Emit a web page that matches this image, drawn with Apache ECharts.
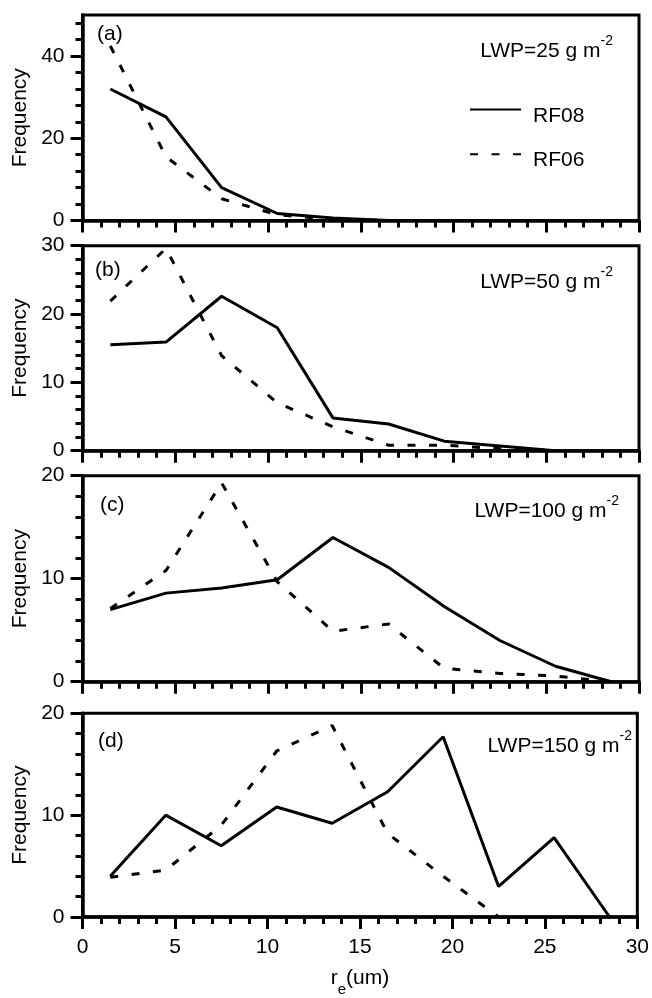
<!DOCTYPE html>
<html><head><meta charset="utf-8">
<script src="https://cdn.jsdelivr.net/npm/echarts@6/dist/echarts.min.js"></script>
<style>html,body{margin:0;padding:0;background:#fff}#c{width:652px;height:998px}</style>
</head><body><div id="c"></div>
<script>
// bin centres of effective radius (um)
const xValues = [1.5, 4.5, 7.5, 10.5, 13.5, 16.5, 19.5, 22.5, 25.5, 28.5];
// (a) LWP=25
const rf08_a = [32.0, 25.2, 8.0, 1.7, 0.6, 0];
const rf06_a = [42.5, 15.5, 5.3, 1.4, 0.3, 0];
// (b) LWP=50
const rf08_b = [15.5, 15.9, 22.6, 18.0, 4.8, 3.9, 1.4, 0.7, 0];
const rf06_b = [21.9, 29.6, 13.9, 7.0, 3.5, 0.8, 0.8, 0.3, 0];
// (c) LWP=100
const rf08_c = [7.0, 8.6, 9.1, 9.9, 14.0, 11.1, 7.3, 4.0, 1.5, 0];
const rf06_c = [7.1, 10.8, 19.3, 9.7, 4.9, 5.6, 1.3, 0.8, 0.55, 0];
// (d) LWP=150
const rf08_d = [4.0, 10.0, 7.0, 10.8, 9.2, 12.3, 17.7, 3.0, 7.8, 0];
const rf06_d = [3.9, 4.6, 9.0, 16.3, 18.8, 8.2, 4.0, 0];

const panelLetters = ['(a)', '(b)', '(c)', '(d)'];
const lwpValues = ['25', '50', '100', '150'];
const yMax = [50, 30, 20, 20];
const yInterval = [20, 10, 10, 10];
const yTickValues = [[0, 20, 40], [0, 10, 20, 30], [0, 10, 20], [0, 10, 20]];
const yMinorValues = [[4, 8, 12, 16, 24, 28, 32, 36, 44, 48],
  [2, 4, 6, 8, 12, 14, 16, 18, 22, 24, 26, 28],
  [2, 4, 6, 8, 12, 14, 16, 18], [2, 4, 6, 8, 12, 14, 16, 18]];
const seriesNames = ['RF08', 'RF06'];

const FONT = 'Liberation Sans, Arial, sans-serif';
const grids = [
  {top: 15, height: 205.5},
  {top: 245.7, height: 205},
  {top: 475.7, height: 206},
  {top: 713.3, height: 206}
];

const pairs = (vals) => vals.map((v, i) => [xValues[i], v]);
const allData = [[rf08_a, rf06_a], [rf08_b, rf06_b], [rf08_c, rf06_c], [rf08_d, rf06_d]];

const black = '#000';
const yAxes = [];
grids.forEach((g, i) => {
  // major ticks + labels
  yAxes.push({
    type: 'value', gridIndex: i, min: 0, max: yMax[i], interval: yInterval[i],
    axisLine: {show: true, onZero: false, lineStyle: {color: black, width: 3.5}},
    axisTick: {show: true, length: 12, customValues: yTickValues[i], lineStyle: {color: black, width: 3}},
    splitLine: {show: false},
    axisLabel: {color: black, fontSize: 21, fontFamily: FONT, margin: 18, customValues: yTickValues[i]},
    name: 'Frequency', nameLocation: 'middle', nameGap: 42,
    nameTextStyle: {color: black, fontSize: 21, fontFamily: FONT}
  });
});
grids.forEach((g, i) => {
  // minor ticks
  yAxes.push({
    type: 'value', gridIndex: i, min: 0, max: yMax[i], position: 'left',
    axisLine: {show: false},
    axisTick: {show: true, length: 7, customValues: yMinorValues[i], lineStyle: {color: black, width: 3}},
    splitLine: {show: false},
    axisLabel: {show: false}
  });
});

const option = {
  animation: false,
  backgroundColor: '#fff',
  grid: grids.map(g => ({left: 82.5, width: 556.5, top: g.top, height: g.height,
    show: true, borderColor: black, borderWidth: 3, backgroundColor: 'transparent'})),
  xAxis: grids.map((g, i) => ({
    type: 'value', gridIndex: i, min: 0, max: 30, interval: 5,
    axisLine: {show: true, onZero: false, lineStyle: {color: black, width: 3.5}},
    axisTick: {show: true, length: 12, lineStyle: {color: black, width: 3}},
    minorTick: {show: true, splitNumber: 5, length: 7, lineStyle: {color: black, width: 3}},
    splitLine: {show: false}, minorSplitLine: {show: false},
    axisLabel: {show: i === 3, color: black, fontSize: 21, fontFamily: FONT, margin: 20},
    name: i === 3 ? '{r|r}{e|e}{r|(um)}' : '',
    nameLocation: 'middle', nameGap: 51,
    nameTextStyle: {color: black, fontFamily: FONT, rich: {
      r: {fontSize: 21, fontFamily: FONT, color: black, lineHeight: 21, verticalAlign: 'top'},
      e: {fontSize: 15, fontFamily: FONT, color: black, lineHeight: 15, verticalAlign: 'top', padding: [14, 0, 0, 0]}
    }}
  })),
  yAxis: yAxes,
  legend: {
    data: seriesNames, orient: 'vertical', left: 464, top: 95, itemGap: 18,
    itemWidth: 51, itemHeight: 24,
    itemStyle: {color: 'rgba(0,0,0,0)', borderWidth: 0, opacity: 0},
    formatter: '{t|{name}}',
    textStyle: {color: black, fontSize: 21, fontFamily: FONT,
      rich: {t: {fontSize: 21, fontFamily: FONT, color: black, padding: [13, 0, 0, 7]}}}
  },
  series: [],
  graphic: []
};

allData.forEach((pair, i) => {
  pair.forEach((vals, k) => {
    option.series.push({
      name: seriesNames[k], type: 'line', xAxisIndex: i, yAxisIndex: i,
      data: pairs(vals), symbol: 'none', silent: true,
      lineStyle: {color: black, width: 3, type: k === 0 ? 'solid' : [8, 13.5], cap: 'butt'},
      itemStyle: {color: black}
    });
  });
});

const letterPos = [[97, 36], [95, 272], [100, 507], [98, 743]];
const lwpPos = [[613, 51], [613, 282], [619, 511], [632, 746]];
panelLetters.forEach((t, i) => {
  option.graphic.push({type: 'text', left: letterPos[i][0], top: letterPos[i][1] - 12,
    style: {text: t, fill: black, fontSize: 21, fontFamily: FONT}});
  option.graphic.push({type: 'text', right: 652 - lwpPos[i][0], top: lwpPos[i][1] - 17,
    style: {text: '{n|LWP=' + lwpValues[i] + ' g m}{s|-2}', fill: black,
      rich: {n: {fontSize: 21, fontFamily: FONT, fill: black, lineHeight: 28, verticalAlign: 'bottom'},
             s: {fontSize: 14, fontFamily: FONT, fill: black, lineHeight: 14, verticalAlign: 'top'}}}});
});

const chart = echarts.init(document.getElementById('c'), null, {renderer: 'canvas'});
chart.setOption(option);
</script></body></html>
